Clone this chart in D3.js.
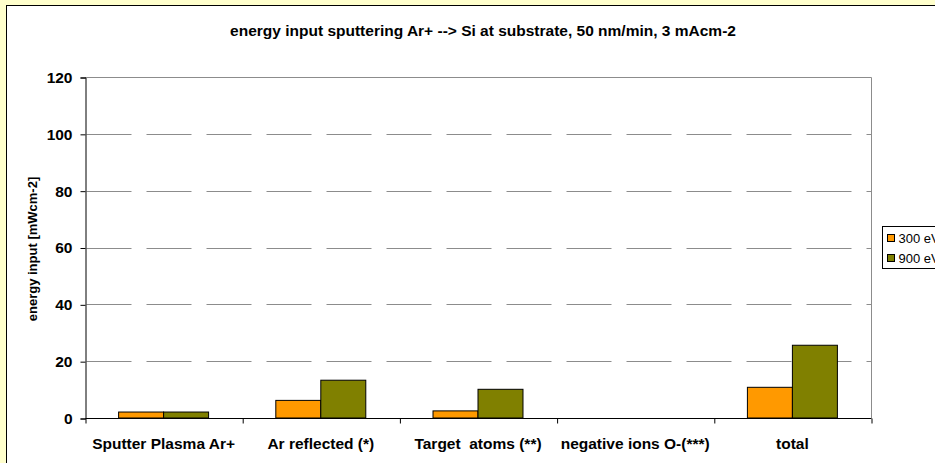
<!DOCTYPE html>
<html>
<head>
<meta charset="utf-8">
<script src="https://cdn.jsdelivr.net/npm/d3@7"></script>
<style>
  body { margin: 0; background: #ffffcc; }
  svg { display: block; font-family: "Liberation Sans", Arial, sans-serif; }
</style>
</head>
<body>
<div class="chart"></div>
<script>
const categories = [
  "Sputter Plasma Ar+",
  "Ar reflected (*)",
  "Target  atoms (**)",
  "negative ions O-(***)",
  "total"
];
const seriesNames = ["300 eV", "900 eV"];
const values300 = [2.1, 6.2, 2.5, 0, 10.8];
const values900 = [2.1, 13.3, 10.1, 0, 25.6];
const yTicks = [0, 20, 40, 60, 80, 100, 120];
const colors = ["#ff9900", "#808000"];

const width = 935;
const height = 463;
const plotLeft = 85;
const plotRight = 871;

const svg = d3
  .select(".chart")
  .append("svg")
  .attr("width", width)
  .attr("height", height);

// chart area
svg
  .append("rect")
  .attr("x", 6.5)
  .attr("y", 5.5)
  .attr("width", width + 10)
  .attr("height", height + 10)
  .attr("fill", "#ffffff")
  .attr("stroke", "#000000");

svg
  .append("text")
  .attr("x", 483)
  .attr("y", 36)
  .attr("text-anchor", "middle")
  .style("font-size", "15.5px")
  .style("font-weight", "bold")
  .text("energy input sputtering Ar+ --> Si at substrate, 50 nm/min, 3 mAcm-2");

const x0 = d3
  .scaleBand()
  .domain(categories)
  .range([plotLeft, plotRight])
  .paddingInner(0)
  .paddingOuter(0);

const x1 = d3
  .scaleBand()
  .domain(seriesNames)
  .range([0, x0.bandwidth()])
  .paddingInner(0)
  .paddingOuter(0.747);

const y = d3.scaleLinear().domain([0, 120]).range([418, 77]);

// dashed gridlines
svg
  .append("g")
  .selectAll("line")
  .data(yTicks.filter(d => d > 0 && d < 120))
  .enter()
  .append("line")
  .attr("x1", plotLeft + 1.5)
  .attr("x2", plotRight)
  .attr("y1", d => Math.round(y(d)) + 0.5)
  .attr("y2", d => Math.round(y(d)) + 0.5)
  .attr("stroke", "#8c8c8c")
  .attr("stroke-dasharray", "45,15");

// plot border (top / right)
svg
  .append("path")
  .attr("d", `M${plotLeft},${Math.round(y(120)) + 0.5}H${plotRight + 0.5}V418`)
  .attr("fill", "none")
  .attr("stroke", "#8c8c8c");

const rows = categories.map((c, i) => ({
  cat: c,
  vals: [values300[i], values900[i]]
}));

const groups = svg
  .append("g")
  .selectAll("g")
  .data(rows)
  .enter()
  .append("g")
  .attr("transform", d => `translate(${x0(d.cat)},0)`);

groups
  .selectAll("rect")
  .data(d => d.vals.map((v, i) => ({ v, i })).filter(d => d.v > 0))
  .enter()
  .append("rect")
  .attr("x", d => x1(seriesNames[d.i]))
  .attr("y", d => y(d.v))
  .attr("width", x1.bandwidth())
  .attr("height", d => y(0) - y(d.v))
  .attr("fill", d => colors[d.i])
  .attr("stroke", "#000000")
  .attr("stroke-width", 1);

// y axis
const yAxis = d3.axisLeft(y).tickValues(yTicks).tickSize(5).tickPadding(8);
const yG = svg
  .append("g")
  .attr("transform", `translate(${plotLeft + 0.5},0.5)`)
  .call(yAxis);
yG.selectAll("text")
  .style("font-size", "15.5px")
  .style("font-weight", "bold")
  .attr("fill", "#000");

// x axis, ticks between categories
const xAxis = d3
  .axisBottom(d3.scaleLinear().domain([0, categories.length]).range([plotLeft, plotRight]))
  .tickValues(d3.range(categories.length + 1))
  .tickSize(5)
  .tickFormat("");
svg
  .append("g")
  .attr("transform", "translate(0.5,418.5)")
  .call(xAxis)
  .select(".domain")
  .attr("d", `M${plotLeft},0H${plotRight}`);

svg
  .append("g")
  .selectAll("text")
  .data(categories)
  .enter()
  .append("text")
  .attr("x", d => x0(d) + x0.bandwidth() / 2)
  .attr("y", 449)
  .attr("text-anchor", "middle")
  .style("font-size", "15.5px")
  .style("font-weight", "bold")
  .style("white-space", "pre")
  .text(d => d);

svg
  .append("text")
  .attr("transform", "translate(37,249) rotate(-90)")
  .attr("text-anchor", "middle")
  .style("font-size", "13px")
  .style("font-weight", "bold")
  .text("energy input [mWcm-2]");

// legend
const legend = svg.append("g").attr("transform", "translate(882,226)");
legend
  .append("rect")
  .attr("x", 0.5)
  .attr("y", 0.5)
  .attr("width", 80)
  .attr("height", 42)
  .attr("fill", "#ffffff")
  .attr("stroke", "#000000");
const items = legend
  .selectAll("g")
  .data(seriesNames)
  .enter()
  .append("g")
  .attr("transform", (d, i) => `translate(5.5,${8.5 + i * 20})`);
items
  .append("rect")
  .attr("width", 7)
  .attr("height", 7)
  .attr("fill", (d, i) => colors[i])
  .attr("stroke", "#000");
items
  .append("text")
  .attr("x", 11)
  .attr("y", 8)
  .style("font-size", "13px")
  .text(d => d);
</script>
</body>
</html>
